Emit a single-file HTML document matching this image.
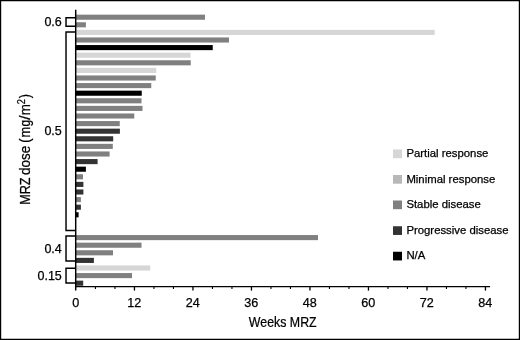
<!DOCTYPE html>
<html><head><meta charset="utf-8"><title>MRZ dose chart</title>
<style>
html,body{margin:0;padding:0;background:#fff;}
body{width:520px;height:340px;overflow:hidden;}
svg{display:block;will-change:transform;}
text{font-family:"Liberation Sans",sans-serif;fill:#000;stroke:#000;stroke-width:0.25px;}
</style></head><body>
<svg width="520" height="340" viewBox="0 0 520 340">
<rect x="0" y="0" width="520" height="340" fill="#fff"/>

<rect x="75.7" y="14.65" width="129.30" height="5.1" fill="#808080"/>
<rect x="75.7" y="22.25" width="10.20" height="5.1" fill="#808080"/>
<rect x="75.7" y="29.85" width="359.05" height="5.1" fill="#d6d6d6"/>
<rect x="75.7" y="37.45" width="153.30" height="5.1" fill="#808080"/>
<rect x="75.7" y="45.05" width="137.05" height="5.1" fill="#000000"/>
<rect x="75.7" y="52.65" width="114.80" height="5.1" fill="#d6d6d6"/>
<rect x="75.7" y="60.25" width="115.05" height="5.1" fill="#808080"/>
<rect x="75.7" y="67.85" width="80.55" height="5.1" fill="#d6d6d6"/>
<rect x="75.7" y="75.45" width="80.05" height="5.1" fill="#808080"/>
<rect x="75.7" y="83.05" width="75.55" height="5.1" fill="#808080"/>
<rect x="75.7" y="90.65" width="66.05" height="5.1" fill="#000000"/>
<rect x="75.7" y="98.25" width="65.80" height="5.1" fill="#808080"/>
<rect x="75.7" y="105.85" width="66.80" height="5.1" fill="#808080"/>
<rect x="75.7" y="113.45" width="58.55" height="5.1" fill="#808080"/>
<rect x="75.7" y="121.05" width="44.05" height="5.1" fill="#808080"/>
<rect x="75.7" y="128.65" width="44.20" height="5.1" fill="#333333"/>
<rect x="75.7" y="136.25" width="37.50" height="5.1" fill="#333333"/>
<rect x="75.7" y="143.85" width="37.10" height="5.1" fill="#808080"/>
<rect x="75.7" y="151.45" width="33.90" height="5.1" fill="#808080"/>
<rect x="75.7" y="159.05" width="21.90" height="5.1" fill="#333333"/>
<rect x="75.7" y="166.65" width="10.20" height="5.1" fill="#000000"/>
<rect x="75.7" y="174.25" width="7.30" height="5.1" fill="#808080"/>
<rect x="75.7" y="181.85" width="7.70" height="5.1" fill="#333333"/>
<rect x="75.7" y="189.45" width="7.70" height="5.1" fill="#333333"/>
<rect x="75.7" y="197.05" width="5.20" height="5.1" fill="#808080"/>
<rect x="75.7" y="204.65" width="5.20" height="5.1" fill="#333333"/>
<rect x="75.7" y="212.25" width="2.90" height="5.1" fill="#000000"/>
<rect x="75.7" y="235.05" width="242.30" height="5.1" fill="#808080"/>
<rect x="75.7" y="242.65" width="65.80" height="5.1" fill="#808080"/>
<rect x="75.7" y="250.25" width="37.30" height="5.1" fill="#808080"/>
<rect x="75.7" y="257.85" width="18.20" height="5.1" fill="#333333"/>
<rect x="75.7" y="265.45" width="74.55" height="5.1" fill="#d6d6d6"/>
<rect x="75.7" y="273.05" width="56.30" height="5.1" fill="#808080"/>
<rect x="75.7" y="280.65" width="7.50" height="5.1" fill="#333333"/>
<path d="M75.7 17.83H66.02V26.27H75.7" fill="none" stroke="#000" stroke-width="1.45"/>
<path d="M75.7 31.93H66.02V230.58H75.7" fill="none" stroke="#000" stroke-width="1.45"/>
<path d="M75.7 235.97H66.02V261.02H75.7" fill="none" stroke="#000" stroke-width="1.45"/>
<path d="M75.7 268.23H66.02V283.07H75.7" fill="none" stroke="#000" stroke-width="1.45"/>
<path d="M75.7 9.7V290.6" stroke="#000" stroke-width="1.45" fill="none"/>
<path d="M75.0 286.6H490.1" stroke="#000" stroke-width="1.45" fill="none"/>
<path d="M95.45 286.6V289.0" stroke="#000" stroke-width="1.1"/>
<path d="M114.95 286.6V289.0" stroke="#000" stroke-width="1.1"/>
<path d="M134.45 286.6V290.6" stroke="#000" stroke-width="1.3"/>
<path d="M153.95 286.6V289.0" stroke="#000" stroke-width="1.1"/>
<path d="M173.45 286.6V289.0" stroke="#000" stroke-width="1.1"/>
<path d="M192.95 286.6V290.6" stroke="#000" stroke-width="1.3"/>
<path d="M212.45 286.6V289.0" stroke="#000" stroke-width="1.1"/>
<path d="M231.95 286.6V289.0" stroke="#000" stroke-width="1.1"/>
<path d="M251.45 286.6V290.6" stroke="#000" stroke-width="1.3"/>
<path d="M270.95 286.6V289.0" stroke="#000" stroke-width="1.1"/>
<path d="M290.45 286.6V289.0" stroke="#000" stroke-width="1.1"/>
<path d="M309.95 286.6V290.6" stroke="#000" stroke-width="1.3"/>
<path d="M329.45 286.6V289.0" stroke="#000" stroke-width="1.1"/>
<path d="M348.95 286.6V289.0" stroke="#000" stroke-width="1.1"/>
<path d="M368.45 286.6V290.6" stroke="#000" stroke-width="1.3"/>
<path d="M387.95 286.6V289.0" stroke="#000" stroke-width="1.1"/>
<path d="M407.45 286.6V289.0" stroke="#000" stroke-width="1.1"/>
<path d="M426.95 286.6V290.6" stroke="#000" stroke-width="1.3"/>
<path d="M446.45 286.6V289.0" stroke="#000" stroke-width="1.1"/>
<path d="M465.95 286.6V289.0" stroke="#000" stroke-width="1.1"/>
<path d="M485.45 286.6V290.6" stroke="#000" stroke-width="1.3"/>
<text x="75.80" y="306.6" font-size="12.6" text-anchor="middle">0</text>
<text x="134.30" y="306.6" font-size="12.6" text-anchor="middle">12</text>
<text x="192.80" y="306.6" font-size="12.6" text-anchor="middle">24</text>
<text x="251.30" y="306.6" font-size="12.6" text-anchor="middle">36</text>
<text x="309.80" y="306.6" font-size="12.6" text-anchor="middle">48</text>
<text x="368.30" y="306.6" font-size="12.6" text-anchor="middle">60</text>
<text x="426.80" y="306.6" font-size="12.6" text-anchor="middle">72</text>
<text x="485.30" y="306.6" font-size="12.6" text-anchor="middle">84</text>
<text x="61.8" y="26.0" font-size="12.5" text-anchor="end">0.6</text>
<text x="61.8" y="135.0" font-size="12.5" text-anchor="end">0.5</text>
<text x="61.8" y="252.6" font-size="12.5" text-anchor="end">0.4</text>
<text x="61.8" y="280.0" font-size="12.5" text-anchor="end">0.15</text>
<text transform="translate(282.75 326.6) scale(0.83 1)" font-size="14.9" text-anchor="middle">Weeks MRZ</text>
<g font-size="14.9">
<text transform="translate(29.9 204.8) rotate(-90) scale(0.85 1)">MRZ</text>
<text transform="translate(29.9 175.0) rotate(-90) scale(0.905 1)">dose</text>
<text transform="translate(29.9 142.7) rotate(-90) scale(0.85 1)">(</text>
<text transform="translate(29.9 137.45) rotate(-90) scale(0.86 1)">m</text>
<text transform="translate(29.9 126.5) rotate(-90) scale(0.8 1)">g</text>
<text transform="translate(29.9 119.85) rotate(-90) scale(1.05 1)">/</text>
<text transform="translate(29.9 115.2) rotate(-90) scale(0.89 1)">m</text>
<text transform="translate(25.0 104.2) rotate(-90) scale(0.78 1)" font-size="11.8">2</text>
<text transform="translate(29.9 98.2) rotate(-90) scale(0.85 1)">)</text>
</g>
<rect x="393" y="149.5" width="9" height="8.7" fill="#d6d6d6"/>
<text x="406.4" y="157.10" font-size="11.35">Partial response</text>
<rect x="393" y="175.0" width="9" height="8.7" fill="#b8b8b8"/>
<text x="406.4" y="182.60" font-size="11.35">Minimal response</text>
<rect x="393" y="200.5" width="9" height="8.7" fill="#808080"/>
<text x="406.4" y="208.10" font-size="11.35">Stable disease</text>
<rect x="393" y="226.25" width="9" height="8.7" fill="#333333"/>
<text x="406.4" y="233.85" font-size="11.35">Progressive disease</text>
<rect x="393" y="251.75" width="9" height="8.7" fill="#000000"/>
<text x="406.4" y="259.35" font-size="11.35">N/A</text>
<path d="M0 0H520V340H0Z M1.2 1.3V338.7H518.8V1.3Z" fill="#000" fill-rule="evenodd"/>
</svg></body></html>
